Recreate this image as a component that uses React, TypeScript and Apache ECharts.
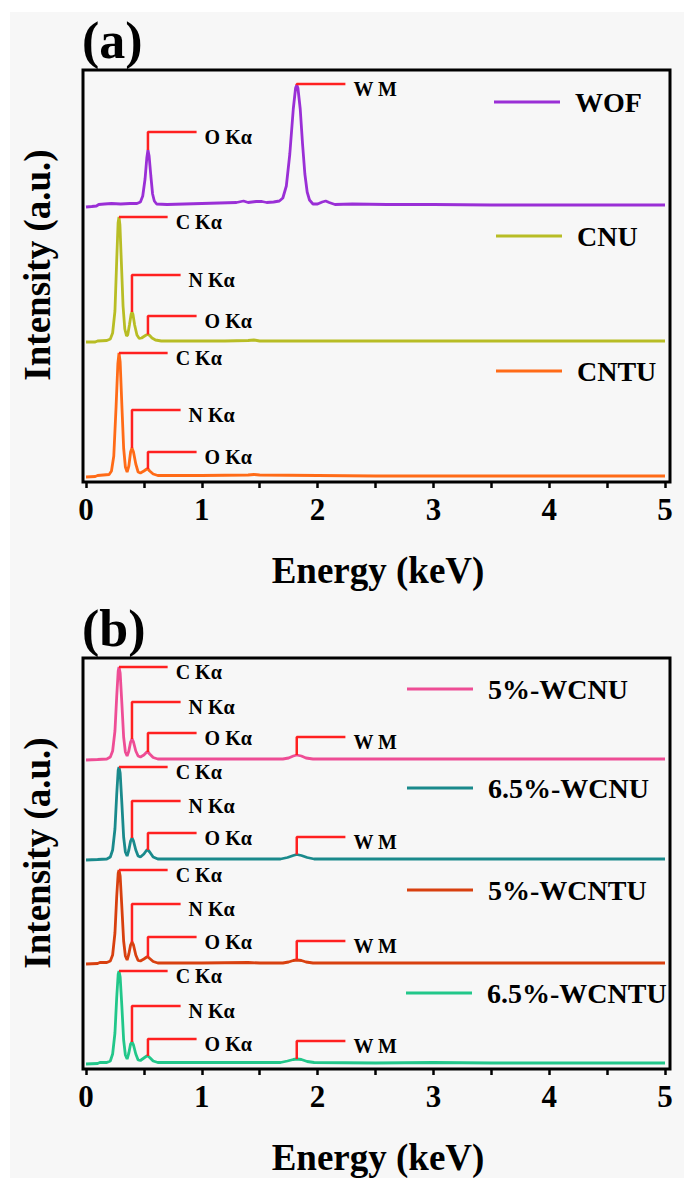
import React, { useEffect, useRef } from "react";
import * as echarts from "echarts";

const FONT = "Liberation Serif, Times New Roman, serif";

// ---------- data (energy keV, intensity a.u.) ----------
const seriesNamesA = ["WOF", "CNU", "CNTU"];
const seriesNamesB = ["5%-WCNU", "6.5%-WCNU", "5%-WCNTU", "6.5%-WCNTU"];

const wofData = [
  [0.0, -3], [0.05, -2.5], [0.09, -2], [0.11, -0.5], [0.16, 0], [0.22, 0.5], [0.3, 0], [0.38, 0.5],
  [0.44, 0.5], [0.47, 2], [0.49, 8], [0.51, 25], [0.525, 46], [0.535, 54], [0.545, 48], [0.56, 28],
  [0.575, 10], [0.59, 3], [0.61, 0], [0.7, -0.5], [0.85, 0], [1.0, 0.5], [1.15, 1], [1.3, 1.5],
  [1.36, 3], [1.4, 1.5], [1.47, 2.5], [1.52, 2.5], [1.56, 1.5], [1.62, 2], [1.67, 3], [1.7, 6],
  [1.73, 18], [1.76, 50], [1.79, 95], [1.81, 116], [1.82, 119], [1.83, 116], [1.85, 95], [1.87, 60],
  [1.89, 30], [1.91, 12], [1.93, 4], [1.96, 0], [2.0, 0], [2.04, 2], [2.07, 3], [2.1, 1.5],
  [2.15, -0.5], [2.3, 0], [2.6, -0.5], [3.0, -0.5], [3.5, -1], [4.0, -1], [4.5, -1], [5.0, -1],
];
const cnuData = [
  [0.0, -1], [0.08, -1], [0.1, 0], [0.18, 0.5], [0.21, 2], [0.23, 8], [0.25, 30], [0.265, 80],
  [0.277, 118], [0.285, 124], [0.293, 116], [0.305, 80], [0.32, 35], [0.335, 12], [0.35, 5], [0.36, 6],
  [0.375, 16], [0.39, 27], [0.397, 29], [0.405, 27], [0.42, 16], [0.44, 6], [0.46, 2.5], [0.48, 3],
  [0.5, 4.5], [0.52, 6], [0.535, 6.5], [0.55, 5.5], [0.57, 3], [0.6, 1], [0.65, 0], [0.8, 0],
  [1.0, 0], [1.2, 0], [1.4, 0.5], [1.45, 1], [1.5, 0], [2.0, 0], [2.5, 0], [3.0, 0], [3.5, 0],
  [4.0, 0], [4.5, 0], [5.0, 0],
];
const cntuData = [
  [0.0, -1], [0.08, -0.5], [0.1, 0.5], [0.15, 1], [0.2, 1.5], [0.22, 5], [0.24, 20], [0.26, 70],
  [0.275, 112], [0.285, 123], [0.295, 114], [0.31, 70], [0.325, 28], [0.34, 9], [0.355, 4], [0.37, 10],
  [0.385, 24], [0.397, 28], [0.41, 24], [0.43, 12], [0.45, 4], [0.47, 3], [0.5, 5], [0.525, 7],
  [0.535, 7], [0.55, 5], [0.58, 2], [0.62, 0.5], [0.8, 0.5], [1.0, 0.5], [1.4, 1], [1.45, 1.5],
  [1.5, 1], [2.0, 0.5], [2.5, 0], [3.0, 0], [3.5, 0], [4.0, 0], [4.5, 0], [5.0, 0],
];
const wcnu5Data = [
  [0.0, -1], [0.1, -0.5], [0.18, 0], [0.21, 2], [0.23, 8], [0.25, 28], [0.265, 62], [0.278, 88],
  [0.285, 92], [0.295, 86], [0.31, 55], [0.325, 22], [0.34, 7], [0.355, 3], [0.37, 8], [0.385, 17],
  [0.397, 20], [0.41, 17], [0.43, 8], [0.45, 3], [0.47, 2], [0.5, 4], [0.525, 7], [0.535, 7],
  [0.55, 5], [0.58, 1.5], [0.62, 0], [0.8, 0], [1.0, 0], [1.4, 0], [1.6, 0], [1.7, 0], [1.75, 1],
  [1.79, 3], [1.82, 4], [1.86, 3], [1.9, 1], [1.96, 0], [2.5, 0], [3.0, 0], [3.5, 0], [4.0, 0],
  [4.5, 0], [5.0, 0],
];
const wcnu65Data = [
  [0.0, -1], [0.1, -0.5], [0.18, 0], [0.21, 2], [0.23, 9], [0.25, 30], [0.265, 64], [0.278, 89],
  [0.285, 92], [0.295, 86], [0.31, 55], [0.325, 22], [0.34, 7], [0.355, 3], [0.37, 9], [0.385, 18],
  [0.397, 21], [0.41, 18], [0.43, 9], [0.45, 3], [0.47, 2], [0.5, 5], [0.525, 9], [0.535, 9],
  [0.55, 7], [0.58, 2], [0.62, 0], [1.0, 0], [1.5, 0], [1.68, 0], [1.74, 1.5], [1.79, 3.5],
  [1.82, 4.5], [1.86, 3.5], [1.91, 1.5], [1.97, 0], [2.5, 0], [3.0, 0], [3.5, 0], [4.0, 0],
  [4.5, 0], [5.0, 0],
];
const wcntu5Data = [
  [0.0, -1], [0.1, -0.5], [0.12, 0.5], [0.18, 0.5], [0.21, 2], [0.23, 8], [0.25, 30], [0.265, 66],
  [0.278, 90], [0.285, 93], [0.295, 87], [0.31, 55], [0.325, 22], [0.34, 7], [0.355, 3], [0.37, 9],
  [0.385, 18], [0.397, 21], [0.41, 18], [0.43, 8], [0.45, 2.5], [0.47, 2], [0.5, 4], [0.525, 6],
  [0.535, 6], [0.55, 4.5], [0.58, 1.5], [0.62, 0], [1.0, 0], [1.4, 0.5], [1.5, 0], [1.7, 0],
  [1.75, 1], [1.79, 2.5], [1.82, 3], [1.86, 2.5], [1.9, 1], [1.96, 0], [2.5, 0], [3.0, 0],
  [3.5, 0], [4.0, 0], [4.5, 0], [5.0, 0],
];
const wcntu65Data = [
  [0.0, -1], [0.1, -0.5], [0.12, 0.5], [0.18, 0.5], [0.21, 2], [0.23, 9], [0.25, 30], [0.265, 65],
  [0.278, 89], [0.285, 92], [0.295, 86], [0.31, 56], [0.325, 23], [0.34, 8], [0.355, 4], [0.37, 10],
  [0.385, 19], [0.397, 21], [0.41, 18], [0.43, 9], [0.45, 3], [0.47, 2.5], [0.5, 5], [0.525, 7],
  [0.535, 7], [0.55, 5.5], [0.58, 2], [0.62, 0.5], [1.0, 0.5], [1.5, 0.5], [1.68, 0.5], [1.74, 2],
  [1.79, 3.5], [1.82, 4], [1.86, 3.5], [1.91, 1.5], [1.97, 0.5], [2.5, 0], [3.0, 0.5], [3.5, 0],
  [4.0, 0], [4.5, 0], [5.0, 0],
];

// peak annotations: [label, energy keV, bracket level]
const wofPeaks = [["O Kα", 0.535, 72], ["W M", 1.82, 120]];
const cnuPeaks = [["C Kα", 0.285, 124], ["N Kα", 0.397, 66], ["O Kα", 0.535, 25]];
const cntuPeaks = [["C Kα", 0.285, 123], ["N Kα", 0.397, 66], ["O Kα", 0.535, 24]];
const wcnu5Peaks = [["C Kα", 0.285, 92], ["N Kα", 0.397, 57], ["O Kα", 0.535, 26], ["W M", 1.82, 22]];
const wcnu65Peaks = [["C Kα", 0.285, 92], ["N Kα", 0.397, 58], ["O Kα", 0.535, 26], ["W M", 1.82, 22]];
const wcntu5Peaks = [["C Kα", 0.285, 93], ["N Kα", 0.397, 59], ["O Kα", 0.535, 26], ["W M", 1.82, 22]];
const wcntu65Peaks = [["C Kα", 0.285, 92], ["N Kα", 0.397, 57], ["O Kα", 0.535, 24], ["W M", 1.82, 22]];

const bracketLength = 0.42; // keV

// ---------- layout / style ----------
const colors = ["#9a2fd6", "#b8bd25", "#ff6b17", "#ee4d95", "#1a8a8c", "#d8400f", "#22c78a"];
const spectra = [wofData, cnuData, cntuData, wcnu5Data, wcnu65Data, wcntu5Data, wcntu65Data];
const peaks = [wofPeaks, cnuPeaks, cntuPeaks, wcnu5Peaks, wcnu65Peaks, wcntu5Peaks, wcntu65Peaks];
const names = [...seriesNamesA, ...seriesNamesB];
const baselinesPx = [204, 341, 476, 759, 859, 963, 1063];
const yMaxes = [140, 140, 140, 110, 110, 110, 110];
const Y_MIN = -10;
const legendPos = [
  [494, 87], [496, 221], [496, 356],
  [407, 674], [407, 773], [407, 875], [406, 978],
];
const frames = [
  { top: 70, height: 412, label: "(a)" },
  { top: 658, height: 411, label: "(b)" },
];
const PLOT_LEFT = 86;
const PLOT_RIGHT = 19;

function valueAt(data: number[][], e: number) {
  let best = data[0];
  for (const p of data) if (Math.abs(p[0] - e) < Math.abs(best[0] - e)) best = p;
  return best[1];
}

function buildOption() {
  const grid: any[] = [];
  const xAxis: any[] = [];
  const yAxis: any[] = [];
  const series: any[] = [];
  const legend: any[] = [];
  const graphic: any[] = [
    { type: "rect", z: -100, shape: { x: 10, y: 12, width: 674, height: 1166 }, style: { fill: "#f7f7f7" } },
  ];

  frames.forEach((f) => {
    const gi = grid.length;
    grid.push({ left: PLOT_LEFT, right: PLOT_RIGHT, top: f.top, height: f.height });
    xAxis.push({
      gridIndex: gi, type: "value", min: 0, max: 5, interval: 1,
      axisLine: { show: false },
      axisTick: { show: true, inside: false, length: 6, lineStyle: { color: "#000", width: 2.5 } },
      minorTick: { show: true, splitNumber: 2, length: 6, lineStyle: { color: "#000", width: 2.5 } },
      splitLine: { show: false },
      axisLabel: { color: "#000", fontFamily: FONT, fontWeight: "bold", fontSize: 31, margin: 12 },
    });
    yAxis.push({ gridIndex: gi, type: "value", show: false });
    graphic.push({
      type: "rect", z: 50,
      shape: { x: 83, y: f.top, width: 587, height: f.height },
      style: { fill: "none", stroke: "#000", lineWidth: 3 },
    });
    graphic.push({
      type: "text", x: 82, y: f.top - 30,
      style: { text: f.label, fill: "#000", fontFamily: FONT, fontWeight: "bold", fontSize: 52, align: "left", verticalAlign: "middle" },
    });
    graphic.push({
      type: "text", x: 378, y: f.top + f.height + 88,
      style: { text: "Energy (keV)", fill: "#000", fontFamily: FONT, fontWeight: "bold", fontSize: 37, align: "center", verticalAlign: "middle" },
    });
    graphic.push({
      type: "text", x: 37, y: f.top + 195, rotation: Math.PI / 2,
      style: { text: "Intensity (a.u.)", fill: "#000", fontFamily: FONT, fontWeight: "bold", fontSize: 37, align: "center", verticalAlign: "middle" },
    });
  });

  spectra.forEach((data, i) => {
    const gi = grid.length;
    const yMax = yMaxes[i];
    grid.push({ left: PLOT_LEFT, right: PLOT_RIGHT, top: baselinesPx[i] - yMax, height: yMax - Y_MIN });
    xAxis.push({ gridIndex: gi, type: "value", min: 0, max: 5, show: false });
    yAxis.push({ gridIndex: gi, type: "value", min: Y_MIN, max: yMax, show: false });
    series.push({
      name: names[i], type: "line", xAxisIndex: gi, yAxisIndex: gi, data,
      showSymbol: false, clip: false, z: 2, color: colors[i],
      lineStyle: { color: colors[i], width: 2.8 },
    });
    peaks[i].forEach((pk: any) => {
      const [label, e, level] = pk;
      const top = valueAt(data, e);
      series.push({
        type: "line", xAxisIndex: gi, yAxisIndex: gi, silent: true, clip: false, z: 3,
        data: [[e, top], [e, level], [e + bracketLength, level]],
        showSymbol: false, color: "#ff2020",
        lineStyle: { color: "#ff2020", width: 2.5 },
        endLabel: {
          show: true, formatter: label, color: "#000", fontFamily: FONT, fontWeight: "bold",
          fontSize: 20, distance: 8, offset: [0, 5],
        },
      });
    });
    legend.push({
      data: [names[i]], left: legendPos[i][0], top: legendPos[i][1], padding: 0,
      icon: "rect", itemWidth: 66, itemHeight: 3, selectedMode: false,
      textStyle: { color: "#000", fontFamily: FONT, fontWeight: "bold", fontSize: 28, lineHeight: 30, padding: [0, 0, 0, 10] },
    });
  });

  return { animation: false, backgroundColor: "#ffffff", grid, xAxis, yAxis, series, legend, graphic };
}

export default function App() {
  const ref = useRef<HTMLDivElement>(null);
  useEffect(() => {
    if (!ref.current) return;
    const chart = echarts.init(ref.current, undefined, { renderer: "svg" });
    chart.setOption(buildOption() as any);
    return () => chart.dispose();
  }, []);
  return <div ref={ref} style={{ position: "absolute", left: 0, top: 0, width: 684, height: 1178 }} />;
}
